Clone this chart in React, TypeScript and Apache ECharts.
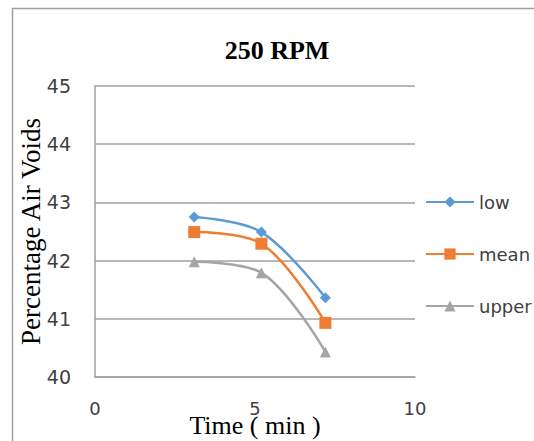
import React, { useEffect, useRef } from "react";
import * as echarts from "echarts";

const times = [3.1, 5.2, 7.2];
const lowValues = [42.75, 42.49, 41.36];
const meanValues = [42.49, 42.29, 40.93];
const upperValues = [41.98, 41.79, 40.43];
const seriesNames = ["low", "mean", "upper"];
const colors = ["#5B9BD5", "#ED7D31", "#A5A5A5"];

export default function App() {
  const ref = useRef<HTMLDivElement>(null);
  useEffect(() => {
    const chart = echarts.init(ref.current!, null, { renderer: "svg" });
    const mk = (vals: number[]) => times.map((t, i) => [t, vals[i]]);
    const symbols = ["diamond", "rect", "triangle"];
    const sizes = [11, 12, 11];
    const all = [lowValues, meanValues, upperValues];
    chart.setOption({
      animation: false,
      backgroundColor: "#ffffff",
      title: {
        text: "250 RPM",
        left: 272,
        textAlign: "center",
        top: 32,
        textStyle: {
          fontFamily: "Liberation Serif",
          fontWeight: "bold",
          fontSize: 26,
          color: "#000",
        },
      },
      graphic: [
        {
          type: "rect",
          shape: { x: 12.5, y: 8.5, width: 600, height: 600 },
          style: { fill: "none", stroke: "#a0a0a0", lineWidth: 1.5 },
          silent: true,
        },
      ],
      legend: {
        orient: "vertical",
        left: 425,
        top: 193,
        padding: 0,
        itemGap: 34,
        itemWidth: 48,
        itemHeight: 14,
        data: seriesNames,
        textStyle: {
          fontFamily: "DejaVu Sans",
          fontSize: 18,
          color: "#404040",
        },
      },
      grid: { left: 95, right: 119, top: 86, bottom: 64, outerBoundsMode: "none", containLabel: false },
      xAxis: {
        type: "value",
        min: 0,
        max: 10,
        interval: 5,
        name: "Time ( min )",
        nameLocation: "middle",
        nameGap: 35,
        nameMoveOverlap: false,
        nameTextStyle: {
          fontFamily: "Liberation Serif",
          fontSize: 26,
          color: "#000",
        },
        axisLine: { show: true, lineStyle: { color: "#a0a0a0", width: 1.5 } },
        axisTick: { show: false },
        splitLine: { show: false },
        axisLabel: {
          margin: 22,
          fontFamily: "DejaVu Sans",
          fontSize: 18,
          color: "#404040",
        },
      },
      yAxis: {
        type: "value",
        min: 40,
        max: 45,
        interval: 1,
        name: "Percentage Air Voids",
        nameLocation: "middle",
        nameGap: 51,
        nameMoveOverlap: false,
        nameTextStyle: {
          fontFamily: "Liberation Serif",
          fontSize: 27,
          color: "#000",
        },
        axisLine: { show: true, lineStyle: { color: "#a0a0a0", width: 1.5 } },
        axisTick: { show: false },
        splitLine: { show: true, lineStyle: { color: "#a0a0a0", width: 1.5 } },
        axisLabel: {
          margin: 24,
          fontFamily: "DejaVu Sans",
          fontSize: 19,
          color: "#404040",
        },
      },
      series: seriesNames.map((n, i) => ({
        name: n,
        type: "line",
        smooth: 0.35,
        data: mk(all[i]),
        symbol: symbols[i],
        symbolSize: sizes[i],
        itemStyle: { color: colors[i] },
        lineStyle: { color: colors[i], width: 2.5 },
      })),
    });
    return () => chart.dispose();
  }, []);
  return (
    <div
      ref={ref}
      style={{ position: "fixed", left: 0, top: 0, width: 534, height: 441 }}
    />
  );
}
